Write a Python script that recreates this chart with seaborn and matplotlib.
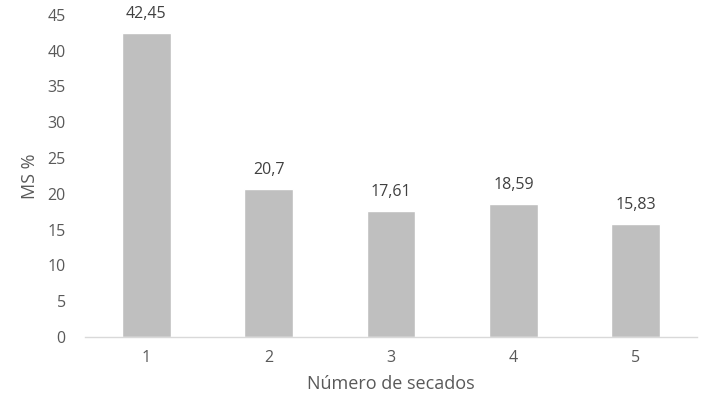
import pandas as pd
import seaborn as sns
import matplotlib.pyplot as plt

# data
secados = ["1", "2", "3", "4", "5"]
ms_pct = [42.45, 20.7, 17.61, 18.59, 15.83]
etiquetas = ["42,45", "20,7", "17,61", "18,59", "15,83"]

df = pd.DataFrame({"secado": secados, "ms": ms_pct})

sns.set_theme(style="white")
plt.rcParams['font.family'] = ['Open Sans', 'DejaVu Sans']
txt = "#595959"

fig = plt.figure(figsize=(7.09, 4.12), dpi=100)
ax = fig.add_axes([0.12, 0.182, 0.863, 0.782])

sns.barplot(data=df, x="secado", y="ms", color="#bfbfbf", width=0.4,
            saturation=1, ax=ax)

# value labels above bars
for i, lab in enumerate(etiquetas):
    ax.text(i, ms_pct[i] + 1.5, lab, ha="center", va="bottom",
            fontsize=11.5, color="#404040")

ax.set_ylim(0, 45)
ax.set_yticks(range(0, 50, 5))
ax.set_xlim(-0.5, 4.5)
for s in ["top", "right", "left"]:
    ax.spines[s].set_visible(False)
ax.spines["bottom"].set_color("#d9d9d9")
ax.spines["bottom"].set_linewidth(1)
ax.tick_params(axis="both", length=0, labelsize=11.5, colors=txt)
ax.tick_params(axis="x", pad=9)
ax.tick_params(axis="y", pad=14)
ax.set_xlabel("Número de secados", fontsize=13, color=txt, labelpad=7)
ax.set_ylabel("MS %", fontsize=13, color=txt, labelpad=6)

plt.savefig("out.png", dpi=100)
